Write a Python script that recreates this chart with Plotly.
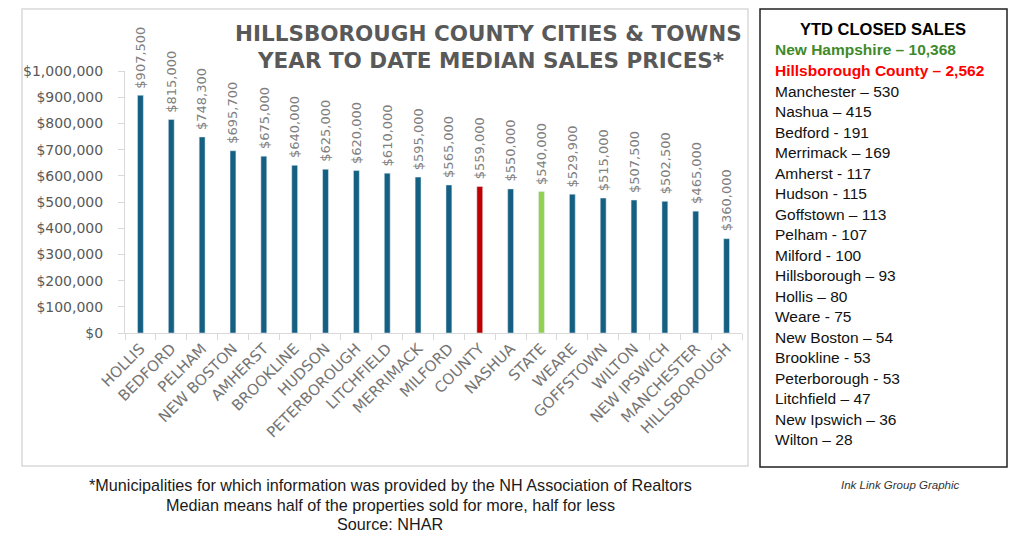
import plotly.graph_objects as go

# ---------------- data ----------------
categories = ["HOLLIS", "BEDFORD", "PELHAM", "NEW BOSTON", "AMHERST", "BROOKLINE",
              "HUDSON", "PETERBOROUGH", "LITCHFIELD", "MERRIMACK", "MILFORD", "COUNTY",
              "NASHUA", "STATE", "WEARE", "GOFFSTOWN", "WILTON", "NEW IPSWICH",
              "MANCHESTER", "HILLSBOROUGH"]
median_prices = [907500, 815000, 748300, 695700, 675000, 640000, 625000, 620000,
                 610000, 595000, 565000, 559000, 550000, 540000, 529900, 515000,
                 507500, 502500, 465000, 360000]
y_tick_values = [0, 100000, 200000, 300000, 400000, 500000, 600000, 700000,
                 800000, 900000, 1000000]
y_tick_labels = ["$" + format(v, ",") for v in y_tick_values]

title_lines = ["HILLSBOROUGH COUNTY CITIES & TOWNS", "YEAR TO DATE MEDIAN SALES PRICES*"]

legend_title = "YTD CLOSED SALES"
legend_lines = ["New Hampshire – 10,368", "Hillsborough County – 2,562",
                "Manchester – 530", "Nashua – 415", "Bedford - 191", "Merrimack – 169",
                "Amherst - 117", "Hudson - 115", "Goffstown – 113", "Pelham - 107",
                "Milford - 100", "Hillsborough – 93", "Hollis – 80", "Weare - 75",
                "New Boston – 54", "Brookline - 53", "Peterborough - 53",
                "Litchfield – 47", "New Ipswich – 36", "Wilton – 28"]

footer_lines = ["*Municipalities for which information was provided by the NH Association of Realtors",
                "Median means half of the properties sold for more, half for less",
                "Source: NHAR"]
credit = "Ink Link Group Graphic"

# ---------------- styling ----------------
BLUE = "#156082"
RED = "#C00000"
GREEN = "#92D050"
bar_colors = [RED if c == "COUNTY" else GREEN if c == "STATE" else BLUE for c in categories]

# page offset (body margin) and plot-area geometry in page pixels
OFF = 8
FIG_W, FIG_H = 1024 - OFF, 539 - OFF
L, R, T, B = 125, 742, 71, 333
W, H = R - L, B - T


def px_x(px):
    return (px - L) / W


def px_y(py):
    return (B - py) / H


fig = go.Figure()
fig.add_trace(go.Bar(
    x=categories, y=median_prices, marker_color=bar_colors, width=0.19,
    hoverinfo="x+y", showlegend=False,
))

annotations = []
# data labels
for c, v in zip(categories, median_prices):
    annotations.append(dict(
        x=c, y=v, xref="x", yref="y", text="${:,}".format(v), showarrow=False,
        textangle=-90, xanchor="center", yanchor="bottom", yshift=5,
        font=dict(family="DejaVu Sans", size=13, color="#7F7F7F"),
    ))

# title
for i, (t, cx, cy) in enumerate(zip(title_lines, [488, 491], [33, 60])):
    annotations.append(dict(
        x=px_x(cx), y=px_y(cy), xref="paper", yref="paper", text="<b>%s</b>" % t,
        showarrow=False, xanchor="center", yanchor="middle",
        font=dict(family="DejaVu Sans", size=21.5, color="#595959"),
    ))

# side box
annotations.append(dict(
    x=px_x(883), y=px_y(29), xref="paper", yref="paper", text="<b>%s</b>" % legend_title,
    showarrow=False, xanchor="center", yanchor="middle",
    font=dict(family="Liberation Sans", size=16.5, color="#000000"),
))
for i, line in enumerate(legend_lines):
    if i == 0:
        txt, col = "<b>%s</b>" % line, "#3F8A2A"
    elif i == 1:
        txt, col = "<b>%s</b>" % line, "#FF0000"
    else:
        txt, col = line, "#111111"
    annotations.append(dict(
        x=px_x(773), y=px_y(50 + 20.5 * i), xref="paper", yref="paper", text=txt,
        showarrow=False, xanchor="left", yanchor="middle",
        font=dict(family="Liberation Sans", size=15.5, color=col),
    ))

# footer
for i, line in enumerate(footer_lines):
    annotations.append(dict(
        x=px_x(390), y=px_y(485 + 19.5 * i), xref="paper", yref="paper", text=line,
        showarrow=False, xanchor="center", yanchor="middle",
        font=dict(family="Liberation Sans", size=16.2, color="#1a1a1a"),
    ))
annotations.append(dict(
    x=px_x(900), y=px_y(485), xref="paper", yref="paper", text="<i>%s</i>" % credit,
    showarrow=False, xanchor="center", yanchor="middle",
    font=dict(family="Liberation Sans", size=11.5, color="#333333"),
))

shapes = [
    dict(type="rect", xref="paper", yref="paper",
         x0=px_x(22), x1=px_x(748), y0=px_y(466), y1=px_y(9),
         line=dict(color="#D9D9D9", width=1.5), fillcolor="rgba(0,0,0,0)", layer="below"),
    dict(type="rect", xref="paper", yref="paper",
         x0=px_x(760), x1=px_x(1007), y0=px_y(467), y1=px_y(9),
         line=dict(color="#222222", width=1.5), fillcolor="rgba(0,0,0,0)"),
]

fig.update_layout(
    width=FIG_W, height=FIG_H,
    margin=dict(l=L - OFF, r=FIG_W - (R - OFF), t=T - OFF, b=FIG_H - (B - OFF), pad=0),
    paper_bgcolor="white", plot_bgcolor="white",
    annotations=annotations, shapes=shapes,
    xaxis=dict(
        type="category", tickangle=-45, ticks="outside", tickson="boundaries",
        ticklen=6, tickcolor="#D9D9D9", showline=True, linecolor="#D9D9D9", linewidth=1,
        showgrid=False, zeroline=False,
        tickfont=dict(family="DejaVu Sans", size=15, color="#757575"),
    ),
    yaxis=dict(
        range=[0, 1000000], tickvals=y_tick_values, ticktext=y_tick_labels,
        ticks="outside", ticklen=6, tickcolor="#D9D9D9", showline=True,
        linecolor="#D9D9D9", linewidth=1, showgrid=False, zeroline=False,
        ticklabelstandoff=12,
        tickfont=dict(family="DejaVu Sans", size=14, color="#595959"),
    ),
)

fig.write_html("out.html")
